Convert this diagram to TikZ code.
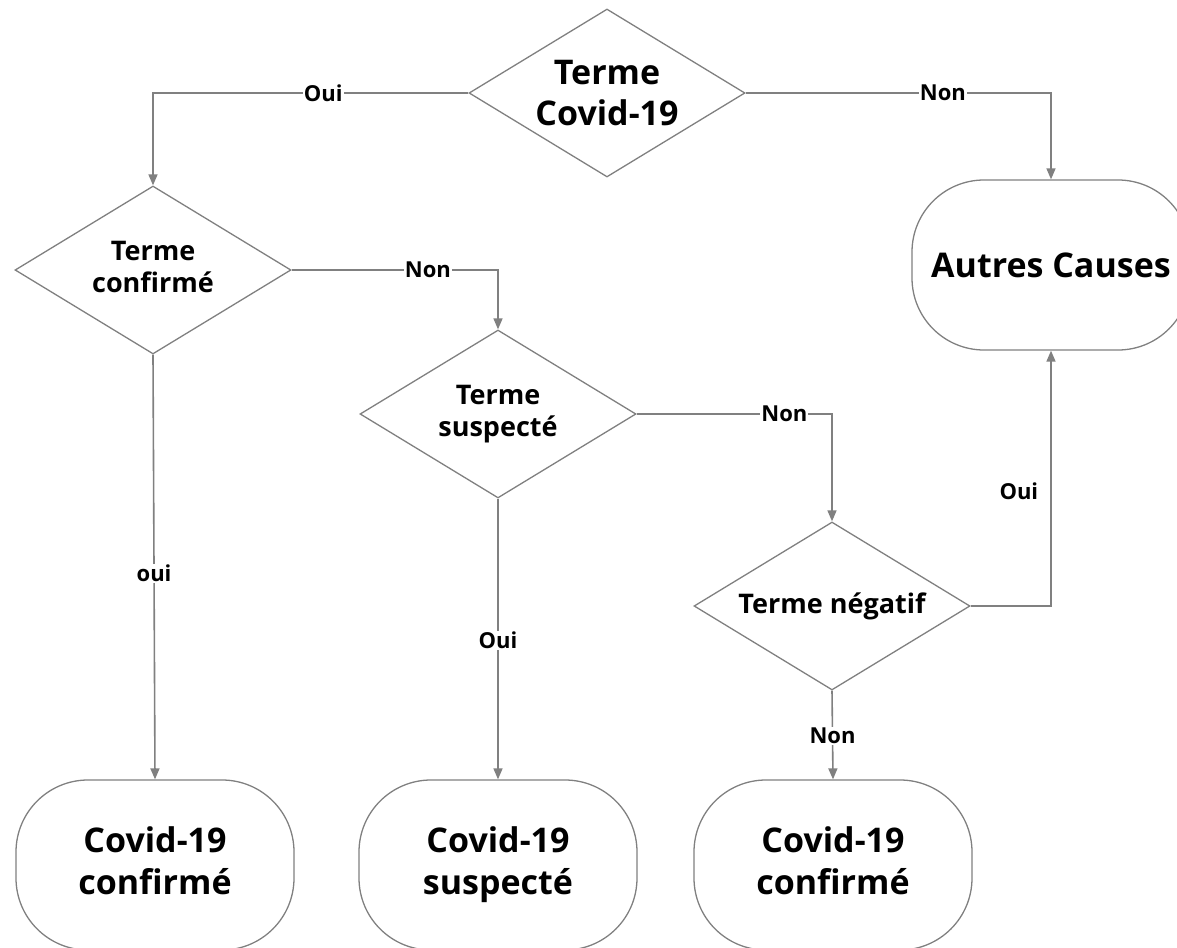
\documentclass[tikz,border=0pt]{standalone}
\usepackage{fontspec}
\setmainfont{Open Sans}
\usetikzlibrary{shapes.geometric,arrows.meta}
\definecolor{lgray}{RGB}{128,128,128}
\tikzset{
  x=1pt,y=-1pt,
  dec/.style={diamond,draw=lgray,line width=1.3pt,fill=white,inner sep=0pt,aspect=1.62,
    minimum width=276pt,minimum height=168pt,align=center,font=\bfseries\fontsize{27}{32}\selectfont},
  bigdec/.style={dec,font=\bfseries\fontsize{34}{41}\selectfont},
  term/.style={rectangle,draw=lgray,line width=1.3pt,rounded corners=72pt,minimum width=278pt,
    minimum height=170pt,align=center,font=\bfseries\fontsize{34}{42}\selectfont},
  conn/.style={draw=lgray,line width=1.6pt,-{Triangle[length=11pt,width=9pt]}},
  labfont/.style={font=\bfseries\fontsize{22}{24}\selectfont},
  lab/.style={labfont,fill=white,inner sep=1pt}
}
\begin{document}
\begin{tikzpicture}
\useasboundingbox (0,0) rectangle (1177,947);
\node[bigdec] (d1) at (607,93) {Terme\\Covid-19};
\node[dec] (d2) at (153,270) {Terme\\confirmé\vphantom{p}};
\node[dec] (d3) at (498,414) {Terme\\suspecté};
\node[dec] (d4) at (832,606) {Terme négatif};
\node[term] (autres) at (1051,265) {Autres Causes};
\node[term] (b1) at (155,865) {Covid-19\\confirmé\vphantom{p}};
\node[term] (b2) at (498,865) {Covid-19\\suspecté};
\node[term] (b3) at (833,865) {Covid-19\\confirmé\vphantom{p}};
\draw[conn] (d1.west) -| node[lab,pos=0.23] {Oui} (d2.north);
\draw[conn] (d1.east) -| node[lab,pos=0.323] {Non} (autres.north);
\draw[conn] (d2.east) -| node[lab,pos=0.33] {Non} (d3.north);
\draw[conn] (d2.south) -- node[lab,pos=0.515] {oui} (b1.north);
\draw[conn] (d3.east) -| node[lab,pos=0.378] {Non} (d4.north);
\draw[conn] (d3.south) -- node[lab,pos=0.505] {Oui} (b2.north);
\draw[conn] (d4.east) -| node[labfont,anchor=east,pos=0.724,inner sep=0pt,xshift=-12pt] {Oui} (autres.south);
\draw[conn] (d4.south) -- node[lab,pos=0.51] {Non} (b3.north);
\end{tikzpicture}
\end{document}
